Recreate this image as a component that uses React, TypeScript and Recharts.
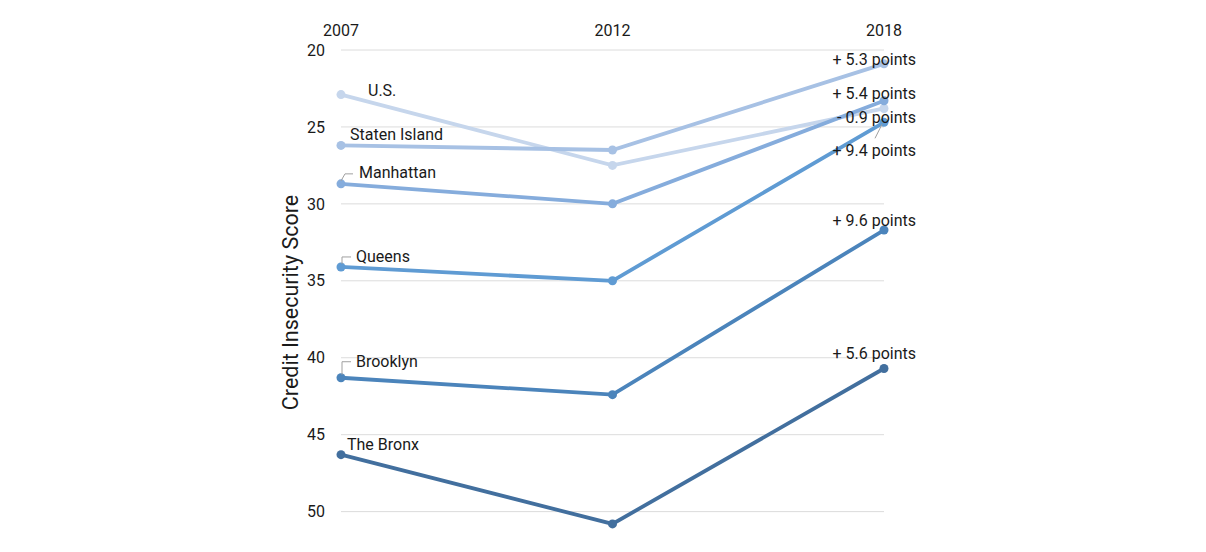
import React from 'react';
import { LineChart, Line, XAxis, YAxis, ReferenceLine, LabelList } from 'recharts';

const years = ['2007', '2012', '2018'];
const seriesNames = ['U.S.', 'Staten Island', 'Manhattan', 'Queens', 'Brooklyn', 'The Bronx'];
const usValues = [22.9, 27.5, 23.8];
const statenIslandValues = [26.2, 26.5, 20.9];
const manhattanValues = [28.7, 30.0, 23.3];
const queensValues = [34.1, 35.0, 24.7];
const brooklynValues = [41.3, 42.4, 31.7];
const bronxValues = [46.3, 50.8, 40.7];
const changeLabels = ['- 0.9 points', '+ 5.3 points', '+ 5.4 points', '+ 9.4 points', '+ 9.6 points', '+ 5.6 points'];
const yTicks = [20, 25, 30, 35, 40, 45, 50];

const allValues = [usValues, statenIslandValues, manhattanValues, queensValues, brooklynValues, bronxValues];
const keys = ['us', 'si', 'mn', 'qn', 'bk', 'bx'];

const data = years.map((year, i) => {
  const row: any = { year };
  keys.forEach((k, s) => { row[k] = allValues[s][i]; });
  return row;
});

const colors = ['#c6d6ec', '#a7c1e4', '#85acdc', '#5f9bd3', '#4b84bb', '#426f9e'];

// label layout (offsets from the point)
const startLayout = [
  { dx: 27, dy: -4, leader: null },
  { dx: 9, dy: -11, leader: null },
  { dx: 18, dy: -11, leader: [[0, -3], [4, -10], [12, -10]] },
  { dx: 15, dy: -11, leader: [[1, -3], [1, -10], [10, -10]] },
  { dx: 15, dy: -16, leader: [[1, -3], [1, -16], [10, -16]] },
  { dx: 6, dy: -10, leader: null },
];
const endLayout = [
  { dy: 9, leader: null },
  { dy: -4, leader: null },
  { dy: -7, leader: null },
  { dy: 28, leader: [[-9, 16], [-2, 2]] },
  { dy: -10, leader: null },
  { dy: -15, leader: null },
];

const FONT = 'Roboto, "Noto Sans", sans-serif';

const makeLabel = (s: number) => (props: any) => {
  const { x, y, index } = props;
  if (x == null || y == null) return null;
  if (index === 0) {
    const L = startLayout[s];
    return (
      <g>
        {L.leader && (
          <polyline
            points={L.leader.map((p) => `${x + p[0]},${y + p[1]}`).join(' ')}
            fill="none"
            stroke="#a0a0a0"
            strokeWidth={1}
          />
        )}
        <text x={x + L.dx} y={y + L.dy} dy="0.35em" fontSize={16} fontFamily={FONT} fill="#1a1a1a" textAnchor="start">
          {seriesNames[s]}
        </text>
      </g>
    );
  }
  if (index === years.length - 1) {
    const L = endLayout[s];
    return (
      <g>
        {L.leader && (
          <polyline
            points={L.leader.map((p) => `${x + p[0]},${y + p[1]}`).join(' ')}
            fill="none"
            stroke="#a0a0a0"
            strokeWidth={1}
          />
        )}
        <text x={x + 32} y={y + L.dy} dy="0.35em" fontSize={16} fontFamily={FONT} fill="#1a1a1a" textAnchor="end">
          {changeLabels[s]}
        </text>
      </g>
    );
  }
  return null;
};

const YLabel = (props: any) => {
  const vb = props.viewBox || {};
  const cx = vb.x + 9;
  const cy = vb.y + vb.height / 2 + 14;
  return (
    <text
      x={cx}
      y={cy}
      transform={`rotate(-90, ${cx}, ${cy})`}
      textAnchor="middle"
      dy="0.35em"
      fontSize={21.5}
      fontFamily={FONT}
      fill="#1a1a1a"
    >
      Credit Insecurity Score
    </text>
  );
};

export default function App() {
  return (
    <div style={{ position: 'absolute', left: 0, top: 0 }}>
      <LineChart
        width={1206}
        height={552}
        data={data}
        margin={{ top: 20, right: 322, bottom: 25, left: 281 }}
      >
        <XAxis
          dataKey="year"
          orientation="top"
          height={30}
          axisLine={false}
          tickLine={false}
          tickSize={0}
          tickMargin={14}
          tick={{ fontSize: 16, fontFamily: FONT, fill: '#1a1a1a' }}
          interval={0}
        />
        <YAxis
          reversed
          domain={[20, 51]}
          ticks={yTicks}
          width={60}
          axisLine={false}
          tickLine={false}
          tickSize={0}
          tickMargin={16}
          tick={{ fontSize: 16, fontFamily: FONT, fill: '#1a1a1a' }}
          label={{ content: <YLabel /> } as any}
        />
        {yTicks.map((t) => (
          <ReferenceLine key={t} y={t} stroke="#dcdcdc" strokeWidth={1} />
        ))}
        {keys.map((k, s) => (
          <Line
            key={k}
            dataKey={k}
            stroke={colors[s]}
            strokeWidth={3.8}
            dot={{ r: 4.5, fill: colors[s], stroke: colors[s], strokeWidth: 0 }}
            activeDot={false}
            isAnimationActive={false}
          >
            <LabelList dataKey={k} content={makeLabel(s)} />
          </Line>
        ))}
      </LineChart>
    </div>
  );
}
